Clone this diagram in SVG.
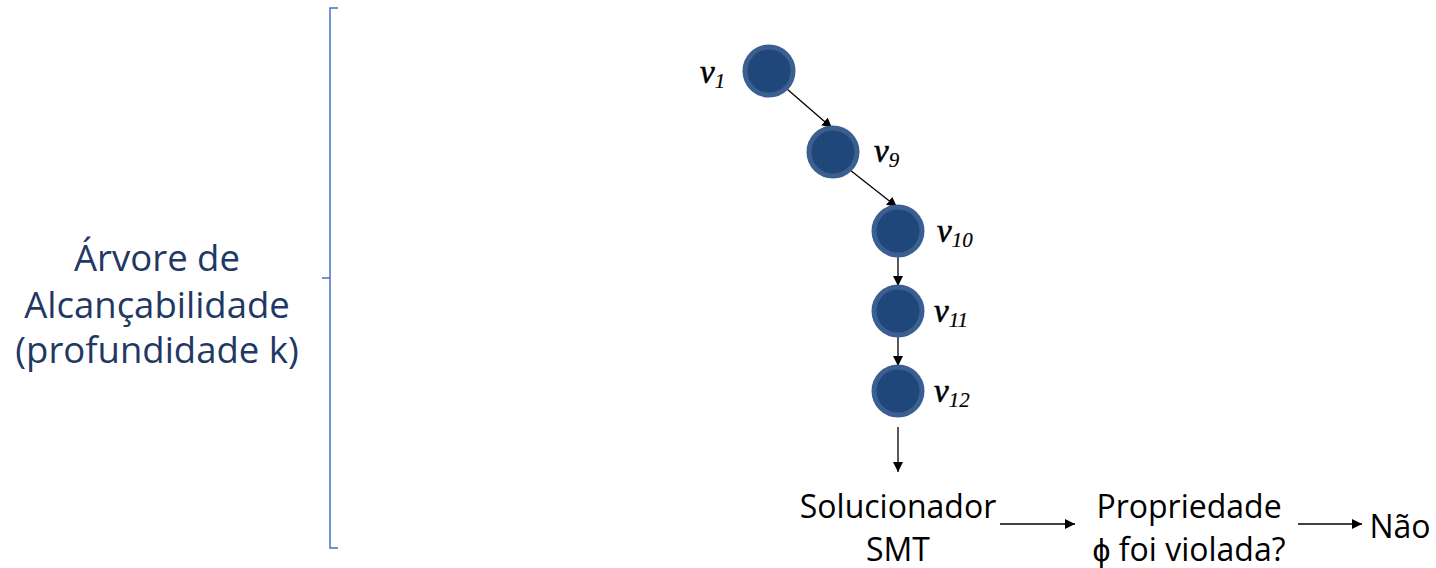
<svg xmlns="http://www.w3.org/2000/svg" width="1436" height="568" viewBox="0 0 1436 568">
<defs>
<marker id="ah" viewBox="0 0 10 10" refX="10" refY="5" markerWidth="10" markerHeight="10" markerUnits="userSpaceOnUse" orient="auto">
<path d="M0,0 L10,5 L0,10 z" fill="#000"/>
</marker>
<style>
.node{fill:#1F477A;stroke:#3B5F90;stroke-width:5}
.vl{font-family:"Liberation Serif",serif;font-style:italic;fill:#000;stroke:#000;stroke-width:0.6;font-size:33px}
.sub{font-size:21px;stroke-width:0.2}
.edge{stroke:#000;stroke-width:1.3;fill:none;marker-end:url(#ah)}
.t{font-family:"Open Sans",sans-serif;font-size:32px;fill:#000;text-anchor:middle}
.lt{font-family:"Open Sans",sans-serif;font-size:36.5px;fill:#1F3864;text-anchor:middle}
</style>
</defs>
<g id="brace"><path d="M338,8 L330,8 L330,548 L338,548 M330,278 L322,278" stroke="#4472C4" stroke-width="1.5" fill="none"/></g>
<g id="label-tree">
<text class="lt" x="157" y="271">Árvore de</text>
<text class="lt" x="157" y="318">Alcançabilidade</text>
<text class="lt" x="157" y="363">(profundidade k)</text>
</g>
<g id="connectors">
<line class="edge" x1="787" y1="89" x2="832" y2="128"/>
<line class="edge" x1="850" y1="170" x2="897" y2="207"/>
<line class="edge" x1="898" y1="257" x2="898" y2="286"/>
<line class="edge" x1="898" y1="337" x2="898" y2="366"/>
<line class="edge" x1="898" y1="427" x2="898" y2="472"/>
<line class="edge" x1="1000" y1="524" x2="1075" y2="524"/>
<line class="edge" x1="1298" y1="524" x2="1362" y2="524"/>
</g>
<g id="v1"><circle class="node" cx="769" cy="71" r="24"/><text class="vl" x="700" y="83">v<tspan class="sub" dy="5">1</tspan></text></g>
<g id="v9"><circle class="node" cx="833" cy="152" r="24"/><text class="vl" x="874" y="162">v<tspan class="sub" dy="5">9</tspan></text></g>
<g id="v10"><circle class="node" cx="898" cy="231" r="24"/><text class="vl" x="937" y="242">v<tspan class="sub" dy="5">10</tspan></text></g>
<g id="v11"><circle class="node" cx="898" cy="311" r="24"/><text class="vl" x="934" y="322">v<tspan class="sub" dy="5">11</tspan></text></g>
<g id="v12"><circle class="node" cx="898" cy="391" r="24"/><text class="vl" x="934" y="402">v<tspan class="sub" dy="5">12</tspan></text></g>
<g id="smt"><text class="t" x="898" y="518">Solucionador</text><text class="t" x="898" y="561">SMT</text></g>
<g id="prop"><text class="t" x="1189" y="518">Propriedade</text><text class="t" x="1189" y="561">ϕ foi violada?</text></g>
<g id="nao"><text class="t" x="1400" y="538">Não</text></g>
</svg>
